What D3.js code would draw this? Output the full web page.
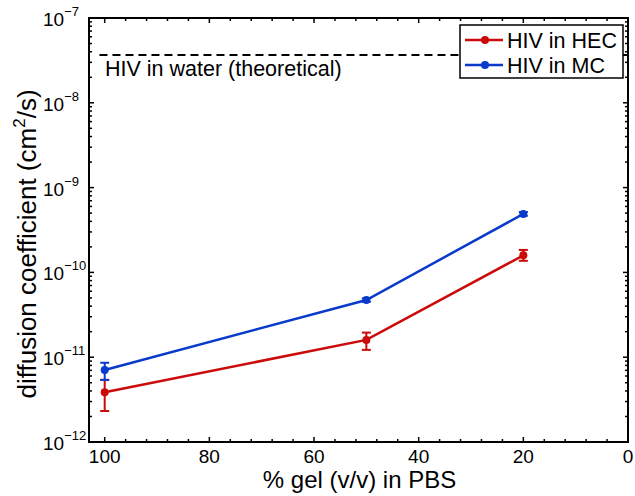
<!DOCTYPE html>
<html><head><meta charset="utf-8">
<script src="https://cdn.jsdelivr.net/npm/d3@7"></script>
<style>body{margin:0;background:#fff}text{font-family:"Liberation Sans",Arial,sans-serif;fill:#000}</style>
</head><body>
<svg id="c" width="635" height="496"></svg>
<script>
const gel = [100, 50, 20];
const hec = [3.86e-12, 1.60e-11, 1.59e-10];
const hecLow = [2.32e-12, 1.22e-11, 1.37e-10];
const hecHigh = [5.4e-12, 1.95e-11, 1.84e-10];
const mc = [7.06e-12, 4.73e-11, 4.89e-10];
const mcLow = [5.4e-12, 4.5e-11, 4.65e-10];
const mcHigh = [8.6e-12, 4.95e-11, 5.15e-10];
const waterX = [101, 0];
const waterY = 3.66e-8;
const xTicks = [100, 80, 60, 40, 20, 0];
const yExponents = [-12, -11, -10, -9, -8, -7];
const seriesNames = ["HIV in HEC", "HIV in MC"];
const seriesColors = ["#cc0a0a", "#0a3acc"];
const waterLabel = "HIV in water (theoretical)";
const xLabel = "% gel (v/v) in PBS";

const svg = d3.select("#c");
const L = 89, R = 628, T = 18, B = 442;
const x = d3.scaleLinear().domain([103, 0]).range([L, R]);
const y = d3.scaleLog().domain([1e-12, 1e-7]).range([B, T]);

// dashed theoretical line
svg.append("line").attr("x1", x(waterX[0])).attr("x2", x(waterX[1]))
  .attr("y1", y(waterY)).attr("y2", y(waterY))
  .attr("stroke", "#000").attr("stroke-width", 2).attr("stroke-dasharray", "8,5");
svg.append("text").attr("x", 105).attr("y", 76).attr("font-size", 21.5).text(waterLabel);

// series
const series = [
  {v: hec, lo: hecLow, hi: hecHigh, c: seriesColors[0]},
  {v: mc, lo: mcLow, hi: mcHigh, c: seriesColors[1]}
];
const line = d3.line().x((d, i) => x(gel[i])).y(d => y(d));
series.forEach(s => {
  const g = svg.append("g");
  g.append("path").attr("d", line(s.v)).attr("fill", "none").attr("stroke", s.c).attr("stroke-width", 2.5);
  s.v.forEach((v, i) => {
    const cx = x(gel[i]);
    g.append("line").attr("x1", cx).attr("x2", cx).attr("y1", y(s.lo[i])).attr("y2", y(s.hi[i]))
      .attr("stroke", s.c).attr("stroke-width", 2);
    [s.lo[i], s.hi[i]].forEach(e => g.append("line").attr("x1", cx - 4.5).attr("x2", cx + 4.5)
      .attr("y1", y(e)).attr("y2", y(e)).attr("stroke", s.c).attr("stroke-width", 2));
    g.append("circle").attr("cx", cx).attr("cy", y(v)).attr("r", 4).attr("fill", s.c);
  });
});

// axes box and ticks
const ax = svg.append("g");
const tickLine = (x1, y1, x2, y2, w) => ax.append("line").attr("x1", x1).attr("y1", y1).attr("x2", x2).attr("y2", y2).attr("stroke", "#000").attr("stroke-width", w || 1.5);
d3.range(0, 104, 4).forEach(v => {
  const major = v % 20 === 0;
  const len = major ? 5 : 3;
  tickLine(x(v), B, x(v), B - len);
  tickLine(x(v), T, x(v), T + len);
});
yExponents.forEach((e, k) => {
  const base = Math.pow(10, e);
  tickLine(L, y(base), L + 5, y(base));
  tickLine(R, y(base), R - 5, y(base));
  if (k < yExponents.length - 1) {
    for (let m = 2; m <= 9; m++) {
      tickLine(L, y(base * m), L + 3, y(base * m));
      tickLine(R, y(base * m), R - 3, y(base * m));
    }
  }
});
ax.append("rect").attr("x", L).attr("y", T).attr("width", R - L).attr("height", B - T)
  .attr("fill", "none").attr("stroke", "#000").attr("stroke-width", 2);

// tick labels
xTicks.forEach(v => svg.append("text").attr("x", x(v)).attr("y", 463).attr("text-anchor", "middle").attr("font-size", 19).text(v));
yExponents.forEach(e => {
  const t = svg.append("text").attr("x", 43).attr("y", y(Math.pow(10, e)) + 8).attr("font-size", 19);
  t.append("tspan").text("10");
  t.append("tspan").attr("dy", -10).attr("font-size", 13).text("\u2212" + Math.abs(e));
});

// axis labels
svg.append("text").attr("x", (L + R) / 2 + 1).attr("y", 488).attr("text-anchor", "middle").attr("font-size", 24).text(xLabel);
const yl = svg.append("text").attr("transform", `translate(36,${(T + B) / 2 + 14}) rotate(-90)`).attr("text-anchor", "middle").attr("font-size", 26);
yl.append("tspan").text("diffusion coefficient (cm");
yl.append("tspan").attr("dy", -11).attr("font-size", 17).text("2");
yl.append("tspan").attr("dy", 11).text("/s)");

// legend
const lg = svg.append("g");
lg.append("rect").attr("x", 460).attr("y", 25).attr("width", 163).attr("height", 53).attr("fill", "#fff").attr("stroke", "#000").attr("stroke-width", 1.5);
seriesNames.forEach((n, i) => {
  const yy = 40 + i * 25;
  lg.append("line").attr("x1", 465).attr("x2", 503).attr("y1", yy).attr("y2", yy).attr("stroke", seriesColors[i]).attr("stroke-width", 2.5);
  lg.append("circle").attr("cx", 485).attr("cy", yy).attr("r", 4).attr("fill", seriesColors[i]);
  lg.append("text").attr("x", 507).attr("y", yy + 8).attr("font-size", 21.5).text(n);
});
</script>
</body></html>
